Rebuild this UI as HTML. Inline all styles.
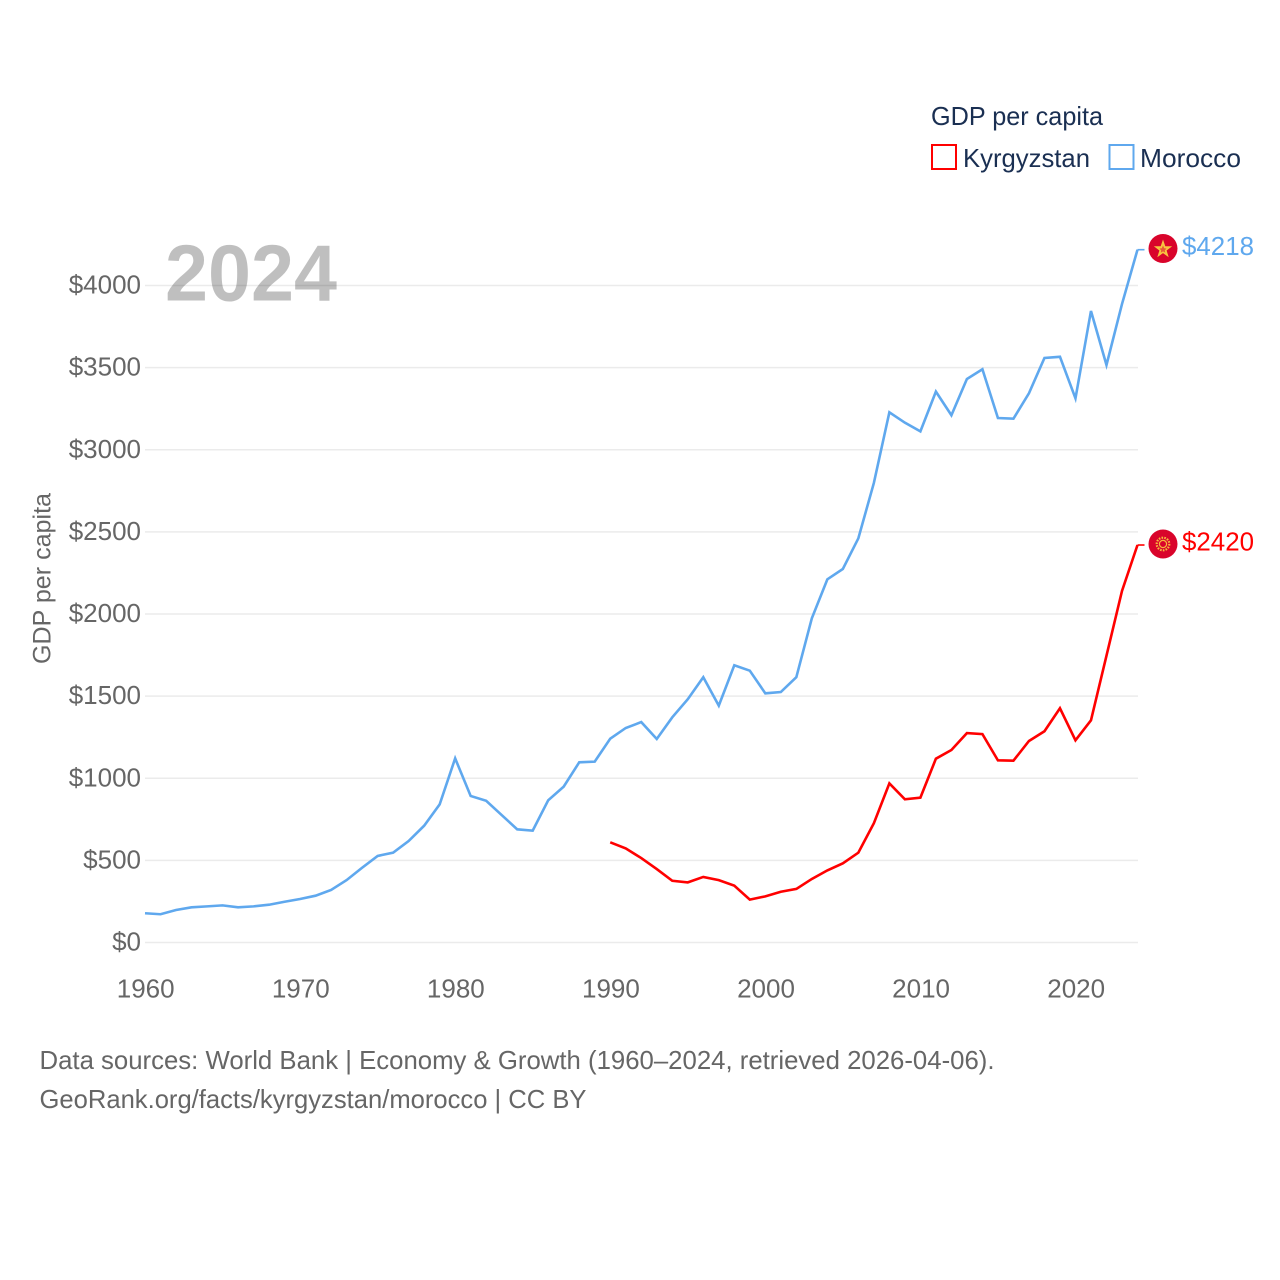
<!DOCTYPE html>
<html lang="en">
<head>
<meta charset="utf-8">
<title>GDP per capita: Kyrgyzstan and Morocco</title>
<style>
html,body{margin:0;padding:0;background:#fff;}
svg{display:block;font-family:"Liberation Sans",sans-serif;}
</style>
</head>
<body>
<svg id="chart" xmlns="http://www.w3.org/2000/svg" width="1280" height="1280" viewBox="0 0 1280 1280">
  <rect x="0" y="0" width="1280" height="1280" fill="#fff"/>
  <g id="grid"></g>
  <text x="165" y="300.5" font-size="80" font-weight="700" fill="#000" fill-opacity="0.25" textLength="172" lengthAdjust="spacingAndGlyphs">2024</text>
  <g id="yticks"></g>
  <g id="xticks"></g>
  <text transform="translate(50.5,578.5) rotate(-90)" text-anchor="middle" font-size="25" fill="#666" textLength="171" lengthAdjust="spacingAndGlyphs">GDP per capita</text>
  <g id="series"></g>

  <g>
    <circle cx="1163" cy="248.5" r="14.5" fill="#d9042b"/>
    <polygon points="1163,239.5 1165.3,246.3 1172.2,246.3 1166.6,250.5 1168.7,257.2 1163,253.1 1157.3,257.2 1159.4,250.5 1153.8,246.3 1160.7,246.3" fill="#f8c440"/>
    <polygon points="1163,245.5 1164.2,248.3 1166.5,248.5 1164.8,250.4 1165.2,252.6 1163,251.4 1160.8,252.6 1161.2,250.4 1159.5,248.5 1161.8,248.3" fill="#d9042b" fill-opacity="0.55"/>
    <text x="1182" y="255" font-size="26" fill="#5fa8ee" textLength="72" lengthAdjust="spacingAndGlyphs">$4218</text>
  </g>
  <g>
    <circle cx="1163" cy="544" r="14.5" fill="#d9042b"/>
    <circle cx="1163" cy="544" r="6.3" fill="none" stroke="#f6b73c" stroke-width="2.2" stroke-dasharray="1.6 1.2"/>
    <circle cx="1163" cy="544" r="3.6" fill="none" stroke="#f6b73c" stroke-width="1.2"/>
    <text x="1182" y="550.5" font-size="26" fill="#ff0000" textLength="72" lengthAdjust="spacingAndGlyphs">$2420</text>
  </g>

  <g>
    <text x="931" y="125" font-size="26" fill="#1a2f52" textLength="172" lengthAdjust="spacingAndGlyphs">GDP per capita</text>
    <g>
      <rect x="932" y="145" width="24" height="24" fill="#fff" stroke="#ff0000" stroke-width="2"/>
      <text x="963" y="167" font-size="26" fill="#1a2f52" textLength="127" lengthAdjust="spacingAndGlyphs">Kyrgyzstan</text>
    </g>
    <g>
      <rect x="1109.5" y="145" width="24" height="24" fill="#fff" stroke="#5fa8ee" stroke-width="2"/>
      <text x="1140" y="167" font-size="26" fill="#1a2f52" textLength="101" lengthAdjust="spacingAndGlyphs">Morocco</text>
    </g>
  </g>

  <text x="39.5" y="1069" font-size="26" fill="#666" textLength="955" lengthAdjust="spacingAndGlyphs">Data sources: World Bank | Economy &amp; Growth (1960–2024, retrieved 2026-04-06).</text>
  <text x="39.5" y="1108" font-size="26" fill="#666" textLength="547" lengthAdjust="spacingAndGlyphs">GeoRank.org/facts/kyrgyzstan/morocco | CC BY</text>
</svg>
<script>
const yTickValues = [0, 500, 1000, 1500, 2000, 2500, 3000, 3500, 4000];
const xTickYears = [1960, 1970, 1980, 1990, 2000, 2010, 2020];
const moroccoStartYear = 1960;
const moroccoValues = [178, 172, 198, 214, 220, 226, 214, 220, 230, 248, 265, 285, 320, 380, 455, 527, 547, 618, 711, 841, 1121, 892, 863, 776, 689, 681, 866, 949, 1097, 1101, 1241, 1306, 1342, 1239, 1371, 1481, 1615, 1442, 1688, 1655, 1517, 1525, 1615, 1974, 2211, 2274, 2461, 2798, 3228, 3165, 3112, 3354, 3210, 3431, 3490, 3193, 3189, 3344, 3559, 3566, 3313, 3845, 3516, 3887, 4218];
const kyrgyzstanStartYear = 1990;
const kyrgyzstanValues = [610, 573, 514, 447, 376, 366, 399, 380, 346, 261, 281, 309, 326, 387, 439, 482, 547, 726, 969, 872, 882, 1119, 1172, 1275, 1269, 1109, 1107, 1227, 1286, 1426, 1231, 1353, 1746, 2140, 2420];

const NS = 'http://www.w3.org/2000/svg';
function xScale(year) { return 145 + (year - 1960) * (1137.5 - 145) / 64; }
function yScale(value) { return 942.5 - value * (942.5 - 285.5) / 4000; }

const gridGroup = document.getElementById('grid');
const yTickGroup = document.getElementById('yticks');
const xTickGroup = document.getElementById('xticks');
const seriesGroup = document.getElementById('series');

yTickValues.forEach(function (v) {
  const line = document.createElementNS(NS, 'line');
  
  
  line.setAttribute('x1', 145);
  line.setAttribute('x2', 1138);
  line.setAttribute('y1', yScale(v));
  line.setAttribute('y2', yScale(v));
  line.setAttribute('stroke', '#ebebeb');
  line.setAttribute('stroke-width', '1.6');
  gridGroup.appendChild(line);

  const label = document.createElementNS(NS, 'text');
  
  
  label.setAttribute('x', 141);
  label.setAttribute('y', yScale(v) + 8);
  label.setAttribute('text-anchor', 'end');
  label.setAttribute('font-size', '26');
  label.setAttribute('fill', '#666');
  label.textContent = '$' + v;
  yTickGroup.appendChild(label);
});

xTickYears.forEach(function (year) {
  const label = document.createElementNS(NS, 'text');
  
  
  label.setAttribute('x', xScale(year) + 0.7);
  label.setAttribute('y', 997.5);
  label.setAttribute('text-anchor', 'middle');
  label.setAttribute('font-size', '26');
  label.setAttribute('fill', '#666');
  label.textContent = String(year);
  xTickGroup.appendChild(label);
});

function seriesPoints(startYear, values) {
  const pts = values.map(function (v, i) {
    return xScale(startYear + i).toFixed(2) + ',' + yScale(v).toFixed(2);
  });
  return pts.join(' ');
}

const moroccoLine = document.createElementNS(NS, 'polyline');


moroccoLine.setAttribute('points', seriesPoints(moroccoStartYear, moroccoValues));
moroccoLine.setAttribute('fill', 'none');
moroccoLine.setAttribute('stroke', '#5fa8ee');
moroccoLine.setAttribute('stroke-width', '2.6');
moroccoLine.setAttribute('stroke-linejoin', 'miter');
seriesGroup.appendChild(moroccoLine);

const kyrgyzstanLine = document.createElementNS(NS, 'polyline');


kyrgyzstanLine.setAttribute('points', seriesPoints(kyrgyzstanStartYear, kyrgyzstanValues));
kyrgyzstanLine.setAttribute('fill', 'none');
kyrgyzstanLine.setAttribute('stroke', '#ff0000');
kyrgyzstanLine.setAttribute('stroke-width', '2.6');
kyrgyzstanLine.setAttribute('stroke-linejoin', 'miter');
seriesGroup.appendChild(kyrgyzstanLine);

const moroccoLeader = document.createElementNS(NS, 'line');


moroccoLeader.setAttribute('x1', xScale(2024));
moroccoLeader.setAttribute('x2', xScale(2024) + 7);
moroccoLeader.setAttribute('y1', yScale(moroccoValues[moroccoValues.length - 1]));
moroccoLeader.setAttribute('y2', yScale(moroccoValues[moroccoValues.length - 1]));
moroccoLeader.setAttribute('stroke', '#5fa8ee');
moroccoLeader.setAttribute('stroke-width', '1.6');
seriesGroup.appendChild(moroccoLeader);

const kyrgyzstanLeader = document.createElementNS(NS, 'line');


kyrgyzstanLeader.setAttribute('x1', xScale(2024));
kyrgyzstanLeader.setAttribute('x2', xScale(2024) + 7);
kyrgyzstanLeader.setAttribute('y1', yScale(kyrgyzstanValues[kyrgyzstanValues.length - 1]));
kyrgyzstanLeader.setAttribute('y2', yScale(kyrgyzstanValues[kyrgyzstanValues.length - 1]));
kyrgyzstanLeader.setAttribute('stroke', '#ff0000');
kyrgyzstanLeader.setAttribute('stroke-width', '1.6');
seriesGroup.appendChild(kyrgyzstanLeader);
</script>
</body>
</html>
